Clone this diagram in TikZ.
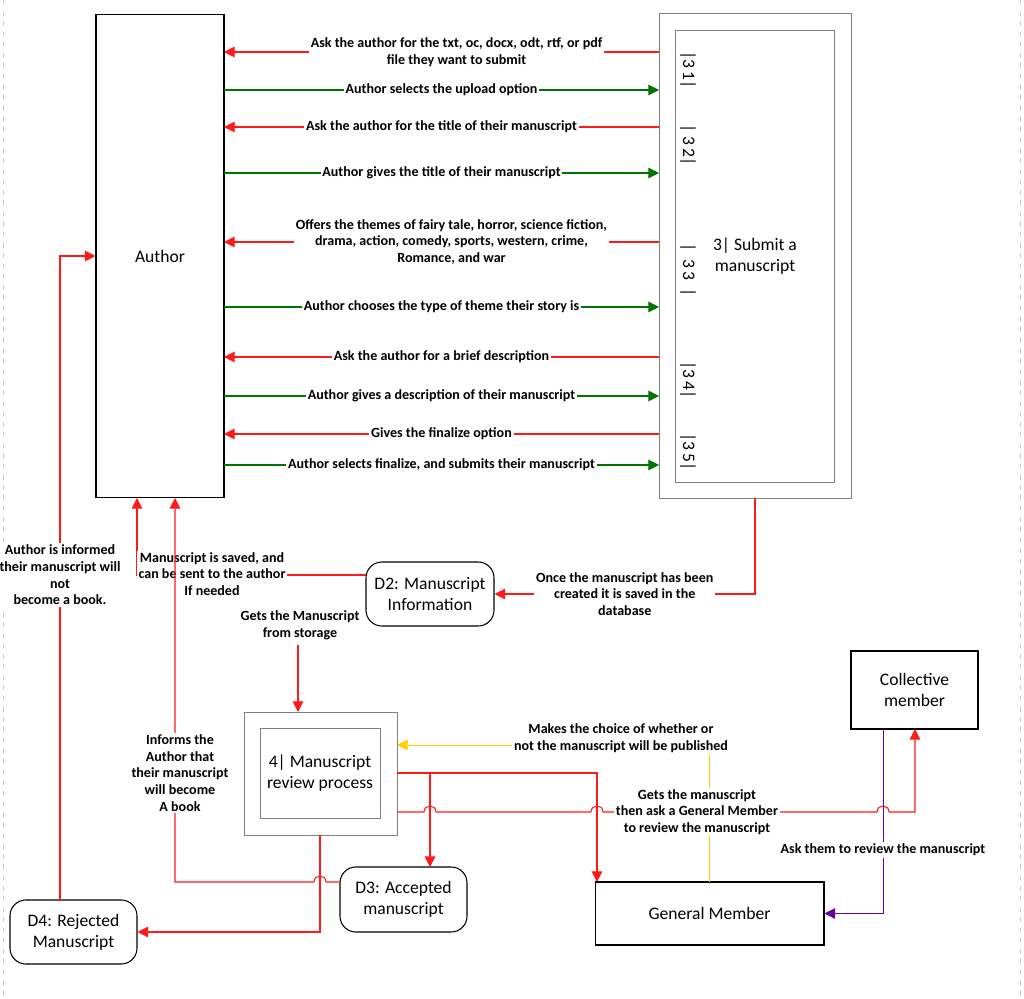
\documentclass[tikz,border=0pt]{standalone}
\usepackage{fontspec}
\setmainfont{Carlito}
\usetikzlibrary{arrows.meta}
\def\drawred{\draw[color=red!90!white, line width=0.6pt, -{Triangle[length=6pt,width=6pt]}]}
\def\drawgreen{\draw[color=green!45!black, line width=0.6pt, -{Triangle[length=6pt,width=6pt]}]}
\def\boxnode{\node[draw=black,line width=0.6pt,align=center,inner sep=1pt]}
\def\storenode{\node[draw=black,line width=0.6pt,rounded corners=9pt,align=center,inner sep=1pt]}
\tikzset{lbl/.style={fill=white,text=black,inner sep=1pt,align=center,font=\footnotesize\bfseries}}
\begin{document}
\begin{tikzpicture}[x=0.02cm,y=-0.02cm]
\useasboundingbox (0,0) rectangle (1024,999);
\draw[gray!40,dashed] (3,0) -- (3,999);
\draw[gray!40,dashed] (1020,0) -- (1020,999);

% ---------- the two big boxes on top
\boxnode[minimum width=2.56cm,minimum height=9.68cm] (author) at (160,256) {};
\node at (160,256) {Author};
\node[draw=gray,minimum width=3.84cm,minimum height=9.7cm] (submit) at (755,255.5) {};
\node[draw=gray,minimum width=3.18cm,minimum height=9.04cm] (submitin) at (754.5,256) {};
\node[align=center] at (755,256) {3| Submit a\\manuscript};
\foreach \t/\y in {{|3 1|}/70,{| 3 2|}/145,{| \ 3 3 \ |}/270,{|3 4|}/380,{|3 5|}/452}
  \node[rotate=-90] at (688,\y) {\t};

% ---------- requests from the submit process (red) and answers (green)
\foreach \y/\t in {127/{Ask the author for the title of their manuscript},
    357/{Ask the author for a brief description},
    434/{Gives the finalize option}}
  \drawred (659,\y) -- node[lbl] {\t} (224,\y);
\drawred (659,52) -- node[lbl,xshift=0.3cm] {Ask the author for the txt, oc, docx, odt, rtf, or pdf\\file they want to submit} (224,52);
\drawred (659,242) -- node[lbl,xshift=0.2cm] {Offers the themes of fairy tale, horror, science fiction,\\drama, action, comedy, sports, western, crime,\\Romance, and war} (224,242);
\foreach \y/\t in {90/{Author selects the upload option},
    173/{Author gives the title of their manuscript},
    307/{Author chooses the type of theme their story is},
    396/{Author gives a description of their manuscript},
    465/{Author selects finalize, and submits their manuscript}}
  \drawgreen (224,\y) -- node[lbl] {\t} (659,\y);

% ---------- data stores
\storenode[minimum width=2.56cm,minimum height=1.28cm] (d2) at (430,594) {D2: Manuscript\\Information};
\storenode[minimum width=2.54cm,minimum height=1.3cm] (d3) at (403.5,899.5) {D3: Accepted\\manuscript};
\storenode[minimum width=2.54cm,minimum height=1.28cm] (d4) at (73.5,932) {D4: Rejected\\Manuscript};
\boxnode[minimum width=2.54cm,minimum height=1.56cm] (coll) at (914.5,690) {Collective\\member};
\boxnode[minimum width=4.58cm,minimum height=1.26cm] (gen) at (709.5,913.5) {General Member};

% ---------- review process
\node[draw=gray,minimum width=3.06cm,minimum height=2.46cm] (review) at (320.5,773.5) {};
\node[draw=gray,minimum width=2.4cm,minimum height=1.8cm,inner sep=1pt,align=center] (reviewin) at (320,773) {4| Manuscript\\review process};

% ---------- flows around the stores
\drawred (755,498) |- node[lbl,pos=0.75] {Once the manuscript has been\\created it is saved in the\\database} (d2.east);
\drawred (366,575) -| (137,498);
\node[lbl] at (212,574) {Manuscript is saved, and\\can be sent to the author\\If needed};
\coordinate (fromstore) at (298,645);
\node[lbl] at (300,625) {Gets the Manuscript\\from storage};
\drawred (fromstore) -- (298,712);
\draw[color=orange!40!yellow, line width=0.5pt, -{Triangle[length=6pt,width=6pt]}] (709,882) |- (397,745);
\node[lbl] at (621,738) {Makes the choice of whether or\\not the manuscript will be published};
\drawred (397,773) -| (430,867);
\drawred (430,773) -| (597,882);
\drawred (397,812) -- (424,812) .. controls (424,804) and (436,804) .. (436,812)
  -- (591,812) .. controls (591,804) and (603,804) .. (603,812)
  -- (877,812) .. controls (877,804) and (889,804) .. (889,812)
  -| (915,729);
\node[lbl] at (697,812) {Gets the manuscript\\then ask a General Member\\to review the manuscript};
\draw[color=violet!80!blue, line width=0.5pt, -{Triangle[length=6pt,width=6pt]}] (883,729) |- (gen.east);
\node[lbl] at (883,850) {Ask them to review the manuscript};
\drawred (320,835) |- (d4.east);
\drawred (340,882) -- (326,882) .. controls (326,874) and (314,874) .. (314,882) -| (175,498);
\node[lbl] at (180,773) {Informs the\\Author that\\their manuscript\\will become\\A book};
\drawred (60,900) |- (author.west);
\node[lbl] at (60,575) {Author is informed\\their manuscript will\\not\\become a book.};
\end{tikzpicture}
\end{document}
